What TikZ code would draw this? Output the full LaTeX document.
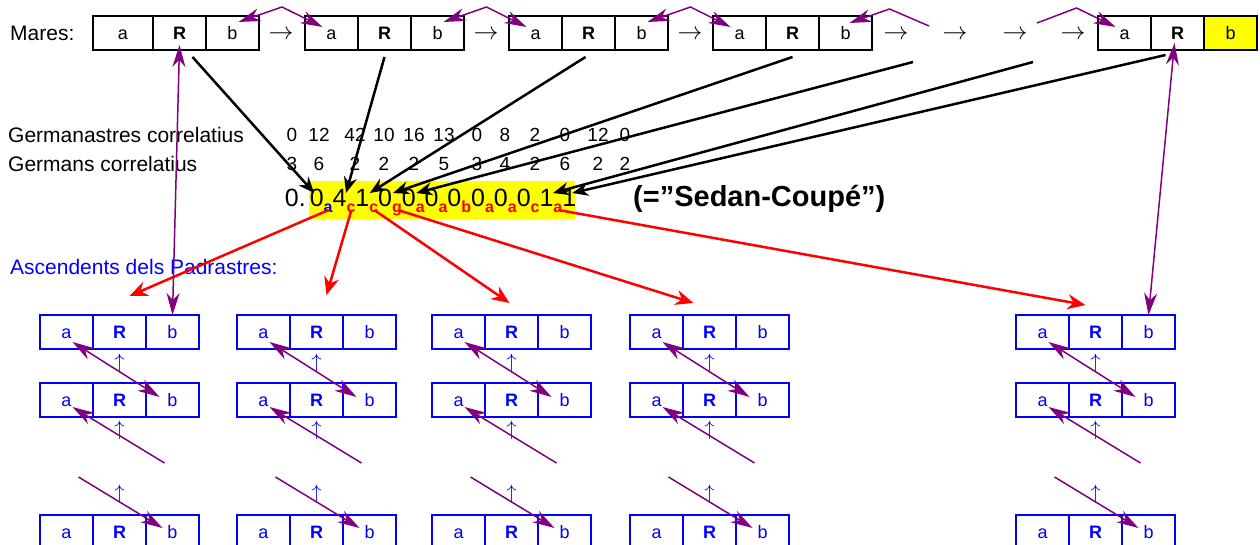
\documentclass[tikz,border=0pt]{standalone}
\usepackage{fontspec}
\setmainfont{Liberation Sans}
\usepackage{tikz}
\usetikzlibrary{arrows.meta, positioning, calc}
\definecolor{linkPurple}{RGB}{128, 0, 128}
\definecolor{boxBlue}{RGB}{0, 0, 255}
\definecolor{subRed}{RGB}{255, 0, 0}
\definecolor{markYellow}{RGB}{255, 255, 0}
\newcommand{\mySubR}[1]{\raisebox{-0.4ex}{\fontsize{16}{16}\selectfont\bfseries\color{subRed}#1}}
\newcommand{\mySubB}[1]{\raisebox{-0.4ex}{\fontsize{16}{16}\selectfont\bfseries\color{boxBlue}#1}}
\tikzset{pTip/.tip={Stealth[length=22pt, width=13pt]}}
\tikzstyle{cell} = [rectangle, draw=black, fill=white, line width=2pt, minimum width=53pt, minimum height=34pt, inner sep=0pt, outer sep=0pt, text height=13pt, text depth=0pt, font=\fontsize{18}{20}\selectfont]
\tikzstyle{bluecell} = [cell, draw=boxBlue, text=boxBlue, line width=2.5pt]
\tikzstyle{textlabel} = [inner sep=0pt, font=\fontsize{21}{24}\selectfont]
\tikzstyle{num} = [inner sep=0pt, font=\fontsize{19}{22}\selectfont]
\tikzstyle{digit} = [inner sep=0pt, outer sep=0pt, text height=20pt, text depth=6pt, font=\fontsize{25}{30}\selectfont]
\tikzstyle{arrowsign} = [inner sep=0pt, font=\fontsize{24}{26}\selectfont]
\tikzstyle{upsign} = [inner sep=0pt, text=boxBlue, font=\fontsize{21}{22}\selectfont]
\tikzstyle{blackarrow} = [line width=2.5pt, -{Stealth[length=16pt, width=13pt]}]
\tikzstyle{redarrow} = [line width=2.5pt, draw=subRed, -{Stealth[length=18pt, width=15pt]}]
\tikzstyle{purpleline} = [line width=1.5pt, draw=linkPurple]

\begin{document}
\begin{tikzpicture}[x=1pt, y=-1pt]
\useasboundingbox (0,0) rectangle (1260,545);

% parents
\node (mares) [textlabel, anchor=west] at (10,33) {Mares:};
\foreach \k/\x/\w/\bcol in {1/93/60/white, 2/305/53/white, 3/509/53/white, 4/713/53/white, 5/1098/53/markYellow} {
  \node (m\k-a) [cell, minimum width=\w pt, anchor=west] at (\x,33) {a};
  \node (m\k-R) [cell, anchor=west] at (m\k-a.east) {\textbf{R}};
  \node (m\k-b) [cell, fill=\bcol, anchor=west] at (m\k-R.east) {b};
}
\foreach \i/\x in {1/281, 2/486, 3/690, 4/896, 5/955, 6/1015, 7/1073}
  \node (to\i) [arrowsign] at (\x,35) {$\rightarrow$};
\coordinate (g1a) at (929,26);
\coordinate (g2b) at (1037,23);
\coordinate (g1R) at (913,62);
\coordinate (g2R) at (1033,62);

\foreach \k/\n in {1/2, 2/3, 3/4}
  \draw [purpleline, pTip-pTip] ($(m\k-b.center)+(6,-11)$) -- ($(m\k-b.north)!0.5!(m\n-a.north)+(0,-9)$) -- ($(m\n-a.center)+(-9,-6)$);
\draw [purpleline, pTip-] ($(m4-b.center)+(4,-10)$) -- ($(m4-b.north)+(44,-7)$) -- (g1a);
\draw [purpleline, -pTip] (g2b) -- ($(m5-a.north)+(-48,-8)$) -- ($(m5-a.center)+(-9,-6)$);

% sibling counts
\node (gtxt) [textlabel, anchor=west] at (8,135) {Germanastres correlatius};
\node (btxt) [textlabel, anchor=west] at (8,164) {Germans correlatius};
\foreach \x/\t/\s [count=\i] in {292/0/3, 319/12/6, 355/42/2, 384/10/2, 414/16/2, 444/13/5, 477/0/3, 505/8/4, 535/2/2, 565/0/6, 598/12/2, 625/0/2} {
  \node (gt\i) [num] at (\x,135) {\t};
  \node (gb\i) [num] at (\x,164) {\s};
}

% the number
\node (hl) [fill=markYellow, minimum width=266pt, minimum height=38pt, inner sep=0pt] at (442,200) {};
\node (zero) [digit, anchor=east, xshift=-3pt] at (hl.west) {0.};
\node (q1) [digit, anchor=west, xshift=1pt] at (hl.west) {0\mySubB{a}};
\node (q2) [digit, right=0pt of q1] {4\mySubR{c}};
\node (q3) [digit, right=0pt of q2] {1\mySubR{c}};
\node (q4) [digit, right=0pt of q3] {0\mySubR{g}};
\node (q5) [digit, right=0pt of q4] {0\mySubR{a}};
\node (q6) [digit, right=0pt of q5] {0\mySubR{a}};
\node (q7) [digit, right=0pt of q6] {0\mySubR{b}};
\node (q8) [digit, right=0pt of q7] {0\mySubR{a}};
\node (q9) [digit, right=0pt of q8] {0\mySubR{a}};
\node (q10) [digit, right=0pt of q9] {0\mySubR{c}};
\node (q11) [digit, right=0pt of q10] {1\mySubR{a}};
\node (q12) [digit, right=0pt of q11] {1};
\node (sedan) [inner sep=0pt, anchor=west, font=\fontsize{29}{32}\selectfont\bfseries] at (633,199) {(=”Sedan-Coupé”)};

\draw [blackarrow] ($(m1-R.south)+(13,7)$) -- ($(q1.north)+(-7,6)$);
\draw [blackarrow] ($(m2-R.south)+(0,7)$) -- ($(q2.north)+(2,6)$);
\draw [blackarrow] ($(m3-R.south)+(-3,7)$) -- ($(q3.north)+(3,6)$);
\draw [blackarrow] ($(m4-R.south)+(0,7)$) -- ($(q4.north)+(3,6)$);
\draw [blackarrow] (g1R) -- ($(q5.north)+(3,6)$);
\draw [blackarrow] (g2R) -- ($(q11.north)+(2,6)$);
\draw [blackarrow] ($(m5-R.south)+(-12,5)$) -- ($(q12.north)+(3,6)$);

% ancestors
\node (asc) [textlabel, text=boxBlue, anchor=west] at (10,267) {Ascendents dels Padrastres:};
\foreach \c/\x in {1/40, 2/237, 3/432, 4/630, 5/1016} {
  \foreach \r/\y in {1/332, 2/400, 3/532} {
    \node (c\c-a\r) [bluecell, anchor=west] at (\x,\y) {a};
    \node (c\c-R\r) [bluecell, anchor=west] at (c\c-a\r.east) {\textbf{R}};
    \node (c\c-b\r) [bluecell, anchor=west] at (c\c-R\r.east) {b};
  }
  \node (up\c-1) [upsign] at ($(c\c-R1.south)!0.5!(c\c-R2.north)+(0,-3)$) {$\uparrow$};
  \node (up\c-2) [upsign] at ($(c\c-R2.south)+(0,13)$) {$\uparrow$};
  \node (up\c-3) [upsign] at ($(c\c-R3.north)+(0,-21)$) {$\uparrow$};
  \coordinate (e\c-1) at ($(c\c-a2.center)+(98,63)$);
  \coordinate (e\c-2) at ($(c\c-a3.center)+(12,-55)$);
  \draw [purpleline, pTip-pTip] ($(c\c-a1.center)+(6,10)$) -- ($(c\c-b2.center)+(-13,-3)$);
  \draw [purpleline, pTip-] ($(c\c-a2.center)+(6,7)$) -- (e\c-1);
  \draw [purpleline, -pTip] (e\c-2) -- ($(c\c-b3.center)+(-10,-4)$);
}

\draw [redarrow] ($(q1.south east)+(-4,-3)$) -- ($(c1-R1.north)+(10,-19)$);
\draw [redarrow] ($(q2.south east)+(-4,-3)$) -- ($(c2-R1.north)+(10,-20)$);
\draw [redarrow] ($(q3.south east)+(-4,-3)$) -- ($(c3-R1.north)+(-2,-12)$);
\draw [redarrow] ($(q4.south east)+(-4,-3)$) -- ($(c4-R1.north)+(-16,-12)$);
\draw [redarrow] ($(q11.south east)+(-4,-3)$) -- ($(c5-R1.north)+(-10,-10)$);

\draw [purpleline, pTip-pTip] ($(m1-R.south)+(0,-5)$) -- (c1-b1.north);
\draw [purpleline, pTip-pTip] ($(m5-R.south)+(-3,-7)$) -- (c5-b1.north);

\end{tikzpicture}
\end{document}
